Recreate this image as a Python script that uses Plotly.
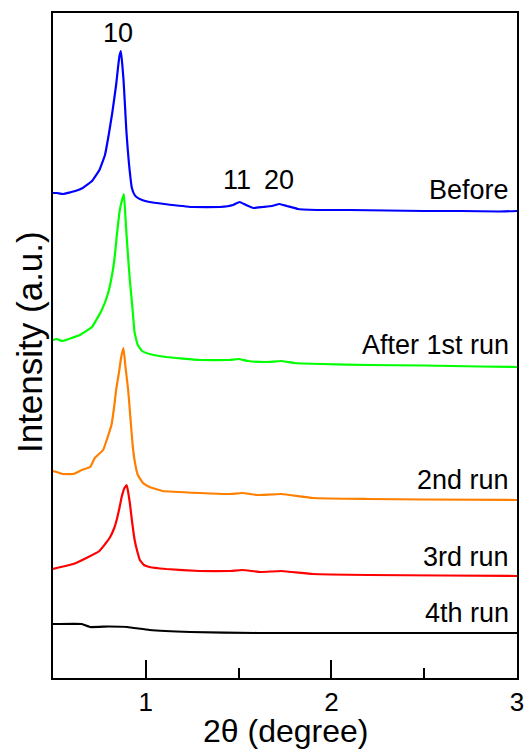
import plotly.graph_objects as go

# Stacked XRD intensities (a.u., already offset)
before_x = [0.50,0.52,0.555,0.62,0.66,0.71,0.75,0.78,0.80,0.82,0.84,0.85,0.858,0.866,0.874,0.88,0.888,0.895,0.903,0.91,0.925,0.94,0.95,0.98,1.02,1.10,1.25,1.40,1.47,1.505,1.54,1.58,1.63,1.68,1.72,1.76,1.82,1.95,2.10,2.30,2.50,2.70,2.90,3.00]
before_y = [485,485,484,487,490,497,508,523,543,566,593,610,622,627,612,598,572,548,528,513,490,483,481,478,476,474,471,471,473,476,473,470,471,472,474,472,469,468,468,467.5,467,467,466.5,467]

run1_x = [0.50,0.52,0.55,0.60,0.645,0.71,0.763,0.797,0.82,0.833,0.843,0.86,0.872,0.882,0.89,0.897,0.905,0.914,0.928,0.94,0.957,0.98,1.02,1.11,1.29,1.45,1.50,1.55,1.65,1.73,1.80,1.95,2.2,2.5,2.8,3.0]
run1_y = [338,339,337,340,343,351,368,385,405,422,441,468,478,484,462,441,420,398,370,345,333,327,324,321,318,318,319,317,316,317,315,314,313,312.5,311.5,311]

run2_x = [0.50,0.52,0.555,0.61,0.655,0.70,0.725,0.77,0.815,0.83,0.84,0.855,0.865,0.872,0.88,0.89,0.905,0.918,0.93,0.945,0.957,0.985,1.02,1.09,1.29,1.45,1.52,1.60,1.73,1.90,2.2,2.5,3.0]
run2_y = [207,206,204,204,208,211,220,228,253,272,288,305,318,325,330,312,288,258,231,212,203,195,191,187,185,184,185,183,184,180,179,178.5,178]

run3_x = [0.50,0.52,0.61,0.68,0.75,0.805,0.83,0.843,0.858,0.87,0.885,0.897,0.905,0.914,0.927,0.94,0.955,0.968,0.99,1.02,1.11,1.29,1.45,1.52,1.62,1.73,1.90,2.2,2.6,3.0]
run3_y = [109,110,114,120,127,140,150,158,170,181,190,193,186,175,155,138,126,118,113,111,109,107,107,108,106,107,104,103,102.5,102]

run4_x = [0.50,0.52,0.655,0.70,0.80,0.90,1.02,1.24,1.60,2.0,2.5,3.0]
run4_y = [54,54,54,51,51.5,51,48,46,45,45,45,45]

series_names = ["Before", "After 1st run", "2nd run", "3rd run", "4th run"]
series_colors = ["#0000FF", "#00FF00", "#FF8000", "#FF0000", "#000000"]
series_x = [before_x, run1_x, run2_x, run3_x, run4_x]
series_y = [before_y, run1_y, run2_y, run3_y, run4_y]
label_y = [488, 333, 198, 121, 65]

peak_labels = ["10", "11", "20"]
peak_x = [0.849, 1.489, 1.72]
peak_y = [645, 498, 498]

FONT = "Liberation Sans, Arial, sans-serif"

fig = go.Figure()
for name, col, xs, ys in zip(series_names, series_colors, series_x, series_y):
    fig.add_trace(go.Scatter(x=xs, y=ys, mode="lines", name=name,
                             line=dict(color=col, width=2.2, shape="spline", smoothing=0.3),
                             showlegend=False))

for name, ly in zip(series_names, label_y):
    fig.add_annotation(x=2.968, y=ly, text=name, showarrow=False,
                       xanchor="right", yanchor="middle",
                       font=dict(size=27, color="black", family=FONT))
for t, px, py in zip(peak_labels, peak_x, peak_y):
    fig.add_annotation(x=px, y=py, text=t, showarrow=False,
                       xanchor="center", yanchor="middle",
                       font=dict(size=27, color="black", family=FONT))

# axis titles placed as paper annotations for exact positioning
fig.add_annotation(xref="paper", yref="paper", x=0.5, y=-0.0797,
                   text="2θ (degree)", showarrow=False,
                   xanchor="center", yanchor="middle", borderpad=0,
                   font=dict(size=32, color="black", family=FONT))
fig.add_annotation(xref="paper", yref="paper", x=-0.052, y=0.505,
                   text="Intensity (a.u.)", showarrow=False, textangle=-90,
                   xanchor="center", yanchor="middle",
                   font=dict(size=35, color="black", family=FONT))

fig.update_layout(
    width=529, height=749,
    margin=dict(l=53, r=12, t=13, b=71, autoexpand=False),
    paper_bgcolor="white", plot_bgcolor="white",
    font=dict(family=FONT, color="black"),
    xaxis=dict(range=[0.5, 3.0], tickmode="array", tickvals=[1, 2, 3],
               ticks="inside", ticklen=18, tickwidth=2, tickcolor="black",
               showline=True, mirror=True, linecolor="black", linewidth=2,
               showgrid=False, zeroline=False, automargin=False,
               tickfont=dict(size=26, family=FONT),
               minor=dict(tickvals=[1.5, 2.5], ticks="inside", ticklen=10,
                          tickwidth=2, tickcolor="black", showgrid=False)),
    yaxis=dict(range=[0, 665], showticklabels=False, ticks="",
               showline=True, mirror=True, linecolor="black", linewidth=2,
               showgrid=False, zeroline=False, automargin=False),
)

fig.write_html("out.html", config={"displayModeBar": False},
               post_script="document.body.style.margin='0';document.body.style.overflow='hidden';")
